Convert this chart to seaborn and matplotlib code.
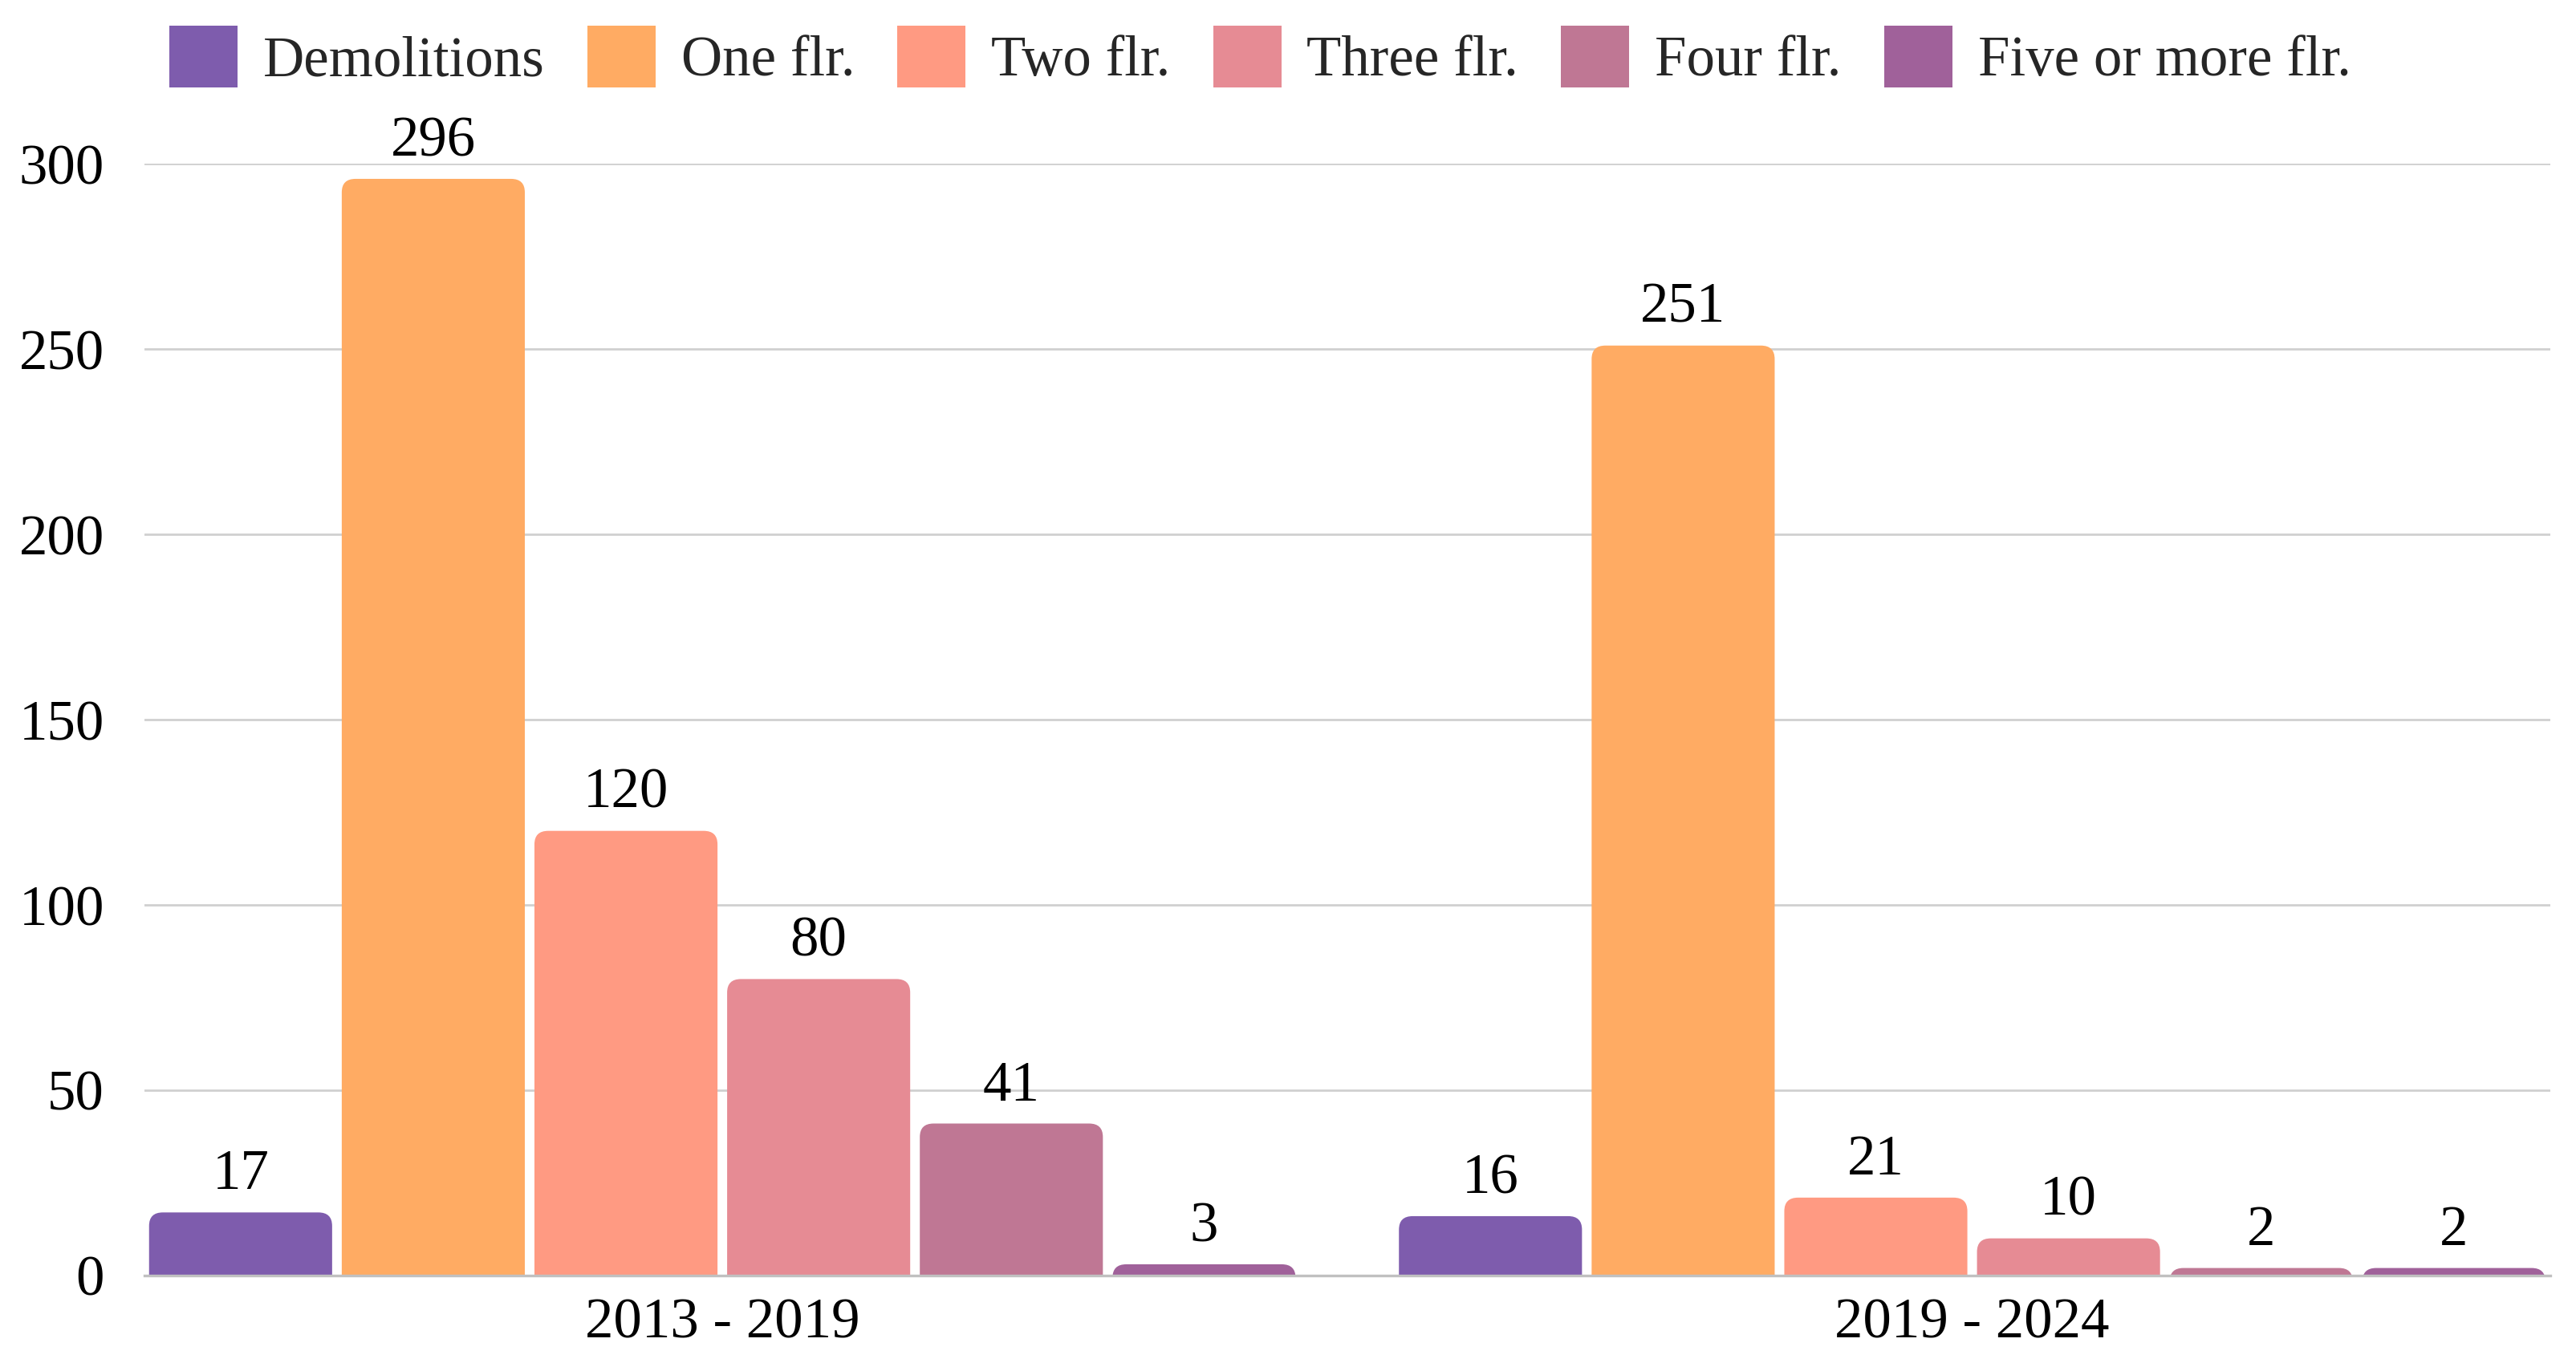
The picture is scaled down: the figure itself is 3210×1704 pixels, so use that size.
import pandas as pd
import matplotlib.pyplot as plt
from matplotlib.patches import FancyBboxPatch
import seaborn as sns

periods = ["2013 - 2019", "2019 - 2024"]
categories = ["Demolitions", "One flr.", "Two flr.", "Three flr.", "Four flr.", "Five or more flr."]
values_2013 = [17, 296, 120, 80, 41, 3]
values_2019 = [16, 251, 21, 10, 2, 2]
colors = ["#7e5cad", "#ffab63", "#ff9a82", "#e68b94", "#bf7794", "#a0619a"]

data = pd.DataFrame({
    "period": [periods[0]] * len(categories) + [periods[1]] * len(categories),
    "category": categories * 2,
    "value": values_2013 + values_2019,
})

sns.set_theme(style="white")
plt.rcParams["font.family"] = ["Liberation Serif", "DejaVu Serif"]
fs = 25.5

fig, ax = plt.subplots(figsize=(16.05, 8.52), dpi=200)
sns.barplot(data=data, x="period", y="value", hue="category", hue_order=categories,
            palette=colors, width=0.925, gap=0.05, saturation=1, ax=ax, edgecolor="none")

for cont in ax.containers:
    ax.bar_label(cont, fmt="%d", padding=5, fontsize=fs, color="black")

ax.set_ylim(0, 300)
ax.set_xlim(-0.4625, 1.4625)

# swap plain bars for bars with rounded tops
for cont in ax.containers:
    for bar in cont.patches:
        x, w, h = bar.get_x(), bar.get_width(), bar.get_height()
        fc = bar.get_facecolor()
        bar.set_visible(False)
        rb = FancyBboxPatch((x, -10), w, h + 10,
                            boxstyle="round,pad=0,rounding_size=0.011",
                            mutation_aspect=330, facecolor=fc, edgecolor="none",
                            zorder=2, clip_on=True)
        ax.add_patch(rb)

ax.set_yticks([0, 50, 100, 150, 200, 250, 300])
ax.yaxis.grid(True, color="#d0d0d0", linewidth=1.0)
ax.set_axisbelow(True)
for s in ["top", "right", "left"]:
    ax.spines[s].set_visible(False)
ax.spines["bottom"].set_color("#c0c0c0")
ax.spines["bottom"].set_linewidth(1.2)
ax.spines["bottom"].set_zorder(3)
ax.tick_params(axis="y", labelsize=fs, length=0, pad=18, labelcolor="black")
ax.tick_params(axis="x", labelsize=fs, length=0, pad=10, labelcolor="black")
ax.set_xlabel("")
ax.set_ylabel("")

ax.legend(loc="upper left", bbox_to_anchor=(0.001, 1.145), ncol=6, frameon=False,
          fontsize=fs, handlelength=1.2, handleheight=1.3, columnspacing=0.75,
          handletextpad=0.45, borderaxespad=0)

plt.subplots_adjust(left=0.056, right=0.99, top=0.88, bottom=0.067)
fig.savefig("out.png")
